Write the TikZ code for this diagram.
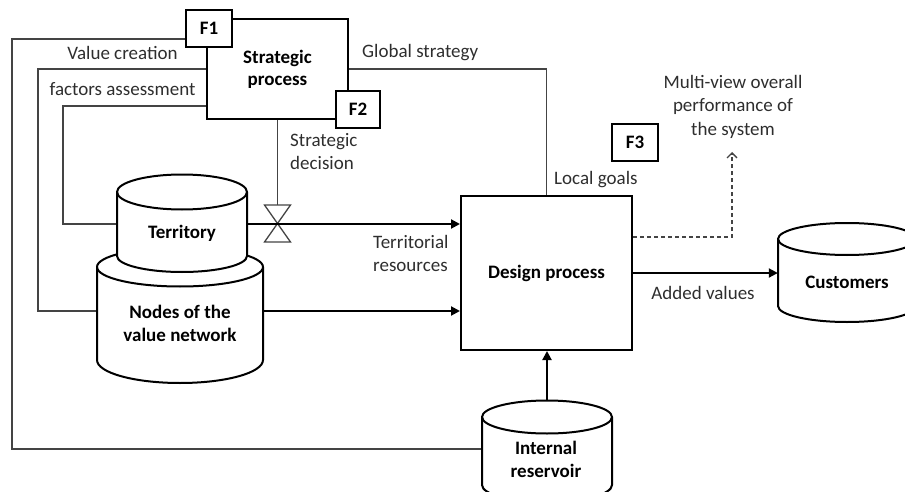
\documentclass[tikz,border=0pt]{standalone}
\usepackage{fontspec}
\setmainfont{Carlito}
\usetikzlibrary{arrows.meta,calc}
\definecolor{ln}{HTML}{444444}
\definecolor{tx}{HTML}{2E2E2E}
\newcommand\drawcyl[6]{%
 \filldraw[cylline,fill=white] (#1,#3) -- (#1,#4) arc[start angle=180,end angle=0,x radius={(#2-#1)/2},y radius=#6] -- (#2,#3) arc[start angle=0,end angle=-180,x radius={(#2-#1)/2},y radius=#5] -- cycle;
 \draw[cylline] (#1,#3) arc[start angle=180,end angle=0,x radius={(#2-#1)/2},y radius=#5];}
\begin{document}
\begin{tikzpicture}[x=1pt,y=-1pt,
 font=\fontsize{19pt}{23.5pt}\selectfont,
 bt/.style={font=\fontsize{19pt}{23pt}\selectfont\bfseries,inner sep=0pt,align=center},
 box/.style={draw=black,line width=2pt,fill=white,inner sep=0pt},
 fbox/.style={draw=black,line width=1.5pt,fill=white,inner sep=0pt,minimum width=46pt,minimum height=37pt,font=\fontsize{19pt}{23pt}\selectfont\bfseries},
 cylline/.style={line width=2pt,draw=black},
 conn/.style={draw=ln,line width=1.3pt},
 arr/.style={draw=black,line width=2pt,-{Triangle[length=9pt,width=9pt]}},
 lbl/.style={text=tx,inner sep=0pt},
 anchorbox/.style={inner sep=0pt,draw=none}]
\useasboundingbox (0,0) rectangle (905,492);
\clip (0,0) rectangle (905,492);
% anchor boxes for cylinders
\node[anchorbox,minimum width=130pt,minimum height=64pt] (terr) at (182,224) {};
\node[anchorbox,minimum width=166pt,minimum height=90pt] (nodes) at (180,311) {};
\node[anchorbox,minimum width=138pt,minimum height=60pt] (cust) at (847,272) {};
\node[anchorbox,minimum width=130pt,minimum height=98pt] (ires) at (547,449) {};
\coordinate (lft1) at (12,449);
\coordinate (lft2) at (38,311);
\coordinate (lft3) at (63,224);
\coordinate (valve) at (277.5,224);
\coordinate (perf) at (732,152);
% boxes
\node[box,minimum width=141pt,minimum height=100pt,font=\fontsize{19pt}{22pt}\selectfont\bfseries,align=center] (strat) at (277.5,69) {Strategic\\process};
\node[box,minimum width=171pt,minimum height=154pt,font=\fontsize{19pt}{23pt}\selectfont\bfseries] (design) at (546.5,273) {Design process};
% connectors
\draw[conn] ($(strat.west)+(-21,-30)$) -| (lft1) -- (ires.west);
\draw[conn] (strat.west) -| (lft2) -- (nodes.west);
\draw[conn] ($(strat.south west)+(0,-14)$) -| (lft3) -- (terr.west);
\draw[conn] (strat.east) -| (design.north);
\draw[conn] (strat.south) -- ($(valve)+(0,-19)$);
\draw[conn] ($(valve)+(-13,-19)$) -- ($(valve)+(13,-19)$) -- ($(valve)+(-13,18)$) -- ($(valve)+(13,18)$) -- cycle;
\draw[arr] (terr.east) -- (terr.east -| design.west);
\draw[arr] (nodes.east) -- (nodes.east -| design.west);
\draw[arr] (design.east) -- (design.east -| cust.west);
\draw[arr] (ires.north) -- (ires.north |- design.south);
\draw[conn,dash pattern=on 4pt off 3pt,-{Straight Barb[length=5pt,width=10pt,line width=1.3pt]}] ($(design.north east)+(0,42)$) -| (perf);
% cylinders
\drawcyl{97}{263}{267}{360}{19.5}{23}
\drawcyl{117}{247}{192}{256}{17.5}{16}
\drawcyl{778}{916}{239}{306}{16}{16}
\drawcyl{482}{612}{417}{485}{16.5}{17}
% F boxes
\node[fbox] (f1) at (209,28.5) {F1};
\node[fbox,minimum width=44pt] (f2) at (358,109.5) {F2};
\node[fbox] (f3) at (635,142.5) {F3};
% labels
\node[lbl] (vc) at (122.5,53) {Value creation};
\node[lbl] (fa) at (122.5,89) {factors assessment};
\node[lbl,anchor=west] (gs) at (362,53) {Global strategy};
\node[lbl,anchor=west,align=left] (sd) at (290,151.5) {Strategic\\decision};
\node[lbl,anchor=west,align=left] (tr) at (373,253.5) {Territorial\\resources};
\node[lbl,anchor=west] (lg) at (554,180) {Local goals};
\node[lbl,align=center] (mv) at (733,106.5) {Multi-view overall\\performance of\\the system};
\node[lbl] (av) at (703,293) {Added values};
\node[bt] (terrt) at (182,233) {Territory};
\node[bt] (nodest) at (180,323.5) {Nodes of the\\value network};
\node[bt] (custt) at (847,282) {Customers};
\node[bt] (irest) at (546,459) {Internal\\reservoir};
\end{tikzpicture}
\end{document}
